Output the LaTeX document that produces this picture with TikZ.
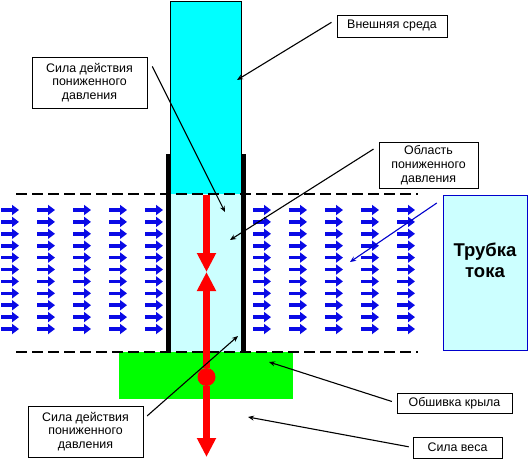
\documentclass[tikz,border=0pt]{standalone}
\usepackage{fontspec}
\setmainfont{Liberation Sans}
\usepackage{xcolor}
\usetikzlibrary{arrows.meta}

\definecolor{outercyan}{HTML}{00FFFF}
\definecolor{lowcyan}{HTML}{CCFFFF}
\definecolor{skingreen}{HTML}{00FF00}
\definecolor{flowblue}{HTML}{0A0AE6}

\tikzset{
	lbl/.style={draw=black, fill=white, line width=0.8pt, align=center, inner sep=0pt,
		font=\fontsize{12.4}{13.8}\selectfont},
	ptr/.style={line width=1.1pt, -{Stealth[length=6pt,width=5pt]}},
	flow/.style={flowblue, line width=3.6pt, -{Triangle[length=7pt,width=10pt]}},
	force/.style={red, line width=7pt, -{Triangle[length=19pt,width=18pt]}},
	wall/.style={line width=5pt},
	bound/.style={line width=2.6pt, dash pattern=on 11pt off 5pt},
}

\begin{document}
\begin{tikzpicture}[x=1pt, y=-1pt]
		\useasboundingbox (0,0) rectangle (528,459);

		% stream of air
		\foreach \col in {0,...,11}
			\foreach \row in {0,...,10}
				\draw[flow] (1+36*\col, 210+11.9*\row) -- ++(18,0);

		% tube and wing skin
		\draw[fill=outercyan, line width=0.6pt] (170,1) rectangle (241,194);
		\fill[lowcyan] (171,194) rectangle (241,352);
		\draw[wall] (168.5,154) -- (168.5,352);
		\draw[wall] (243.5,154) -- (243.5,352);
		\fill[skingreen] (119,352) rectangle (293,399);

		\draw[bound] (16,194) -- (418,194);
		\draw[bound] (16,352) -- (418,352);

		% forces
		\coordinate (ftop) at (206.5,195);
		\coordinate (fmid) at (206.5,272);
		\coordinate (fbot) at (206.5,457);
		\node[circle, fill=red, minimum size=18pt, inner sep=0pt] (cg) at (206.5,377) {};

		\draw[force] (ftop) -- (fmid);
		\draw[force] (cg) -- (fmid);
		\draw[force] (cg) -- (fbot);

		% stream tube
		\node[draw=blue!80!black, fill=lowcyan, line width=0.8pt, minimum width=84pt,
			minimum height=155pt, inner sep=0pt] (tubebox) at (485,272.5) {};
		\node[font=\bfseries\fontsize{18.5}{21}\selectfont, align=center] (tubetxt) at (485,260) {Трубка\\тока};

		% labels
		\node[lbl, minimum width=110pt, minimum height=22pt] (ext) at (392,26) {Внешняя среда};
		\node[lbl, minimum width=115pt, minimum height=51pt] (sila1) at (89.5,82.5) {Сила действия\\пониженного\\давления};
		\node[lbl, minimum width=99pt, minimum height=46pt] (obl) at (428.5,165) {Область\\пониженного\\давления};
		\node[lbl, minimum width=115pt, minimum height=20pt] (skin) at (454.5,403) {Обшивка крыла};
		\node[lbl, minimum width=89pt, minimum height=21pt] (wt) at (457.5,447.5) {Сила веса};
		\node[lbl, minimum width=115pt, minimum height=51pt] (sila2) at (85.5,431.5) {Сила действия\\пониженного\\давления};

		\coordinate (exttip) at (237,80);
		\coordinate (sila1tip) at (225,212);
		\coordinate (obltip) at (230,240);
		\coordinate (tubetip) at (350,262);
		\coordinate (skintip) at (269,362);
		\coordinate (wttip) at (248,417);
		\coordinate (sila2tip) at (238,336);

		\draw[ptr, shorten <=6pt] (ext.173) -- (exttip);
		\draw[ptr, shorten <=11pt] (sila1.north east) -- (sila1tip);
		\draw[ptr, shorten <=6pt] (obl.159) -- (obltip);
		\draw[ptr, blue!80!black, shorten <=7pt] (tubebox.120) -- (tubetip);
		\draw[ptr, shorten <=5pt] (skin.west) -- (skintip);
		\draw[ptr, shorten <=4pt] (wt.west) -- (wttip);
		\draw[ptr, shorten <=5pt] (sila2.12) -- (sila2tip);
	\end{tikzpicture}
\end{document}
